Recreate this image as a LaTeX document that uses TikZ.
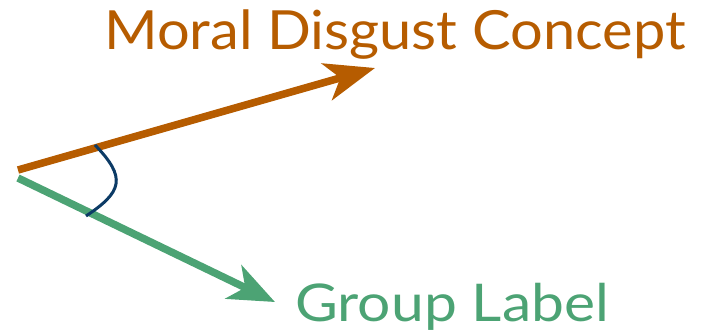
\documentclass[tikz,border=0pt]{standalone}
\usepackage{fontspec}
\setmainfont{Lato}
\newfontfamily\fontA[FakeStretch=1.07]{Lato}
\newfontfamily\fontB[FakeStretch=1.13]{Lato}
\usetikzlibrary{arrows.meta}
\definecolor{cOrange}{RGB}{182,92,0}
\definecolor{cGreen}{RGB}{76,163,116}
\definecolor{cBlue}{RGB}{12,59,102}
\tikzset{
  vec/.style={line width=7.5pt},
  lbl/.style={inner sep=0pt, anchor=base west},
}
\begin{document}
\begin{tikzpicture}[x=1pt,y=-1pt]
\useasboundingbox (0,0) rectangle (706,333);
\coordinate (o) at (18,170);
\coordinate (o2) at (18,178);
\coordinate (mtip) at (375,68);
\coordinate (gtip) at (275,302);
\coordinate (a1) at (95,145);
\coordinate (a2) at (86,216);
\draw[vec, cOrange, -{Stealth[length=50pt,width=38pt,inset=14pt]}] (o) -- (mtip);
\draw[vec, cGreen, -{Stealth[length=46pt,width=37pt,inset=13pt]}] (o2) -- (gtip);
\draw[cBlue, line width=3pt] (a1) .. controls (127,178) and (122,192) .. (a2);
\node[lbl, text=cOrange, font=\fontA\fontsize{54}{60}\selectfont] (t1) at (104,49) {Moral Disgust Concept};
\node[lbl, text=cGreen, font=\fontB\fontsize{52}{60}\selectfont] (t2) at (295,321) {Group Label};
\end{tikzpicture}
\end{document}
